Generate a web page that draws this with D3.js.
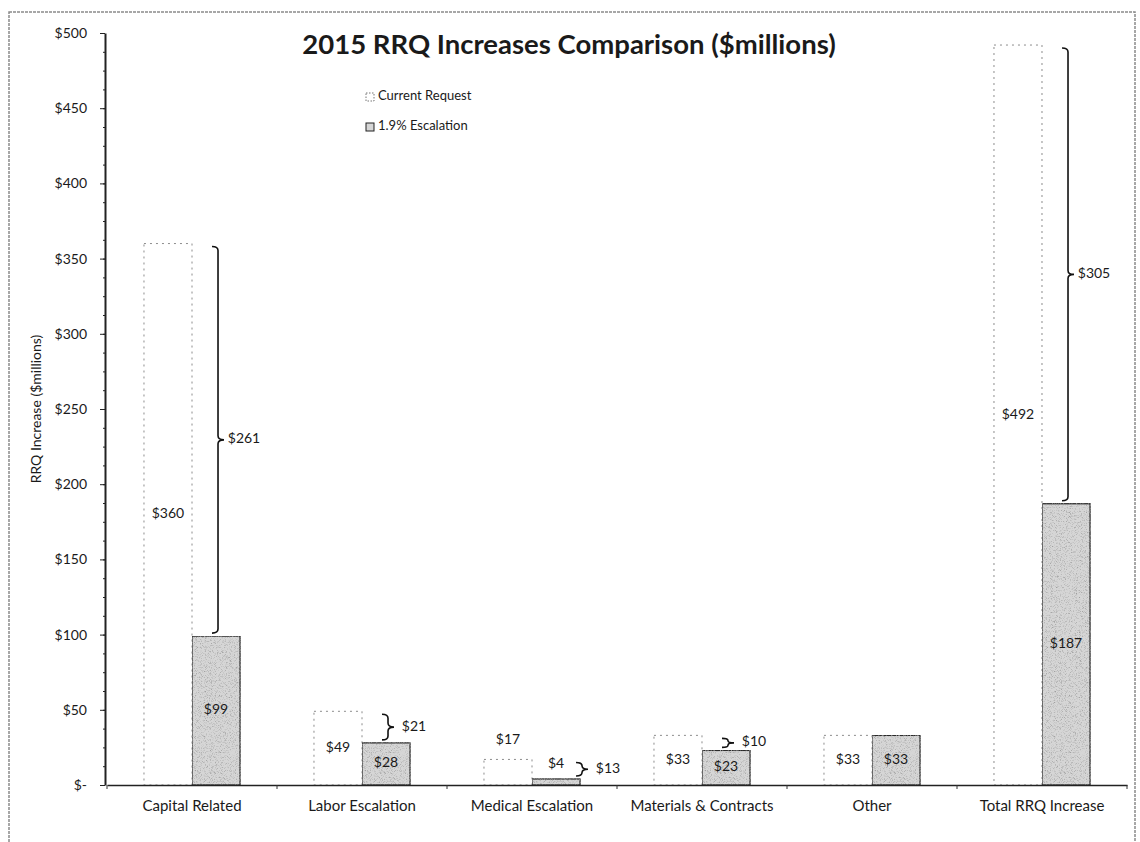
<!DOCTYPE html>
<html>
<head>
<meta charset="utf-8">
<title>2015 RRQ Increases Comparison</title>
<script src="https://cdn.jsdelivr.net/npm/d3@7/dist/d3.min.js"></script>
<style>
  body { margin: 0; background: #fff; }
  svg { display: block; }
  text { font-family: Lato, "Open Sans", sans-serif; fill: #1a1a1a; }
  .axis path, .axis line { stroke: #222; }
  .axis text { font-size: 14px; }
</style>
</head>
<body>
<script>
// chart values
const categories = ["Capital Related", "Labor Escalation", "Medical Escalation",
                    "Materials & Contracts", "Other", "Total RRQ Increase"];
const currentRequest = [360, 49, 17, 33, 33, 492];
const escalation = [99, 28, 4, 23, 33, 187];
const seriesNames = ["Current Request", "1.9% Escalation"];
const yTickValues = [0, 50, 100, 150, 200, 250, 300, 350, 400, 450, 500];

const W = 1140, H = 842;
const plot = { left: 107, right: 1127, top: 33, bottom: 785 };

const svg = d3.select("body").append("svg")
    .attr("width", W)
    .attr("height", H);

// stipple texture for the escalation bars
const defs = svg.append("defs");
const f = defs.append("filter").attr("id", "stipple")
    .attr("x", 0).attr("y", 0).attr("width", 1).attr("height", 1);
f.append("feTurbulence").attr("type", "fractalNoise")
    .attr("baseFrequency", 1.2).attr("numOctaves", 2).attr("seed", 7).attr("result", "n");
f.append("feColorMatrix").attr("in", "n").attr("type", "matrix")
    .attr("values", "0 0 0 0 0.35  0 0 0 0 0.35  0 0 0 0 0.35  3 0 0 0 -1.5")
    .attr("result", "dots");
f.append("feComposite").attr("in", "dots").attr("in2", "SourceGraphic")
    .attr("operator", "in").attr("result", "dotsIn");
const fm = f.append("feMerge");
fm.append("feMergeNode").attr("in", "SourceGraphic");
fm.append("feMergeNode").attr("in", "dotsIn");

// outer frame
svg.append("rect")
    .attr("x", 9).attr("y", 12)
    .attr("width", 1126).attr("height", 845)
    .attr("fill", "none")
    .attr("stroke", "#8a8a8a")
    .attr("stroke-width", 1.5)
    .attr("stroke-dasharray", "3 1");

// scales
const x0 = d3.scaleBand()
    .domain(categories)
    .range([plot.left, plot.right])
    .paddingInner(0.435)
    .paddingOuter(0.2175);

const x1 = d3.scaleBand()
    .domain(["current", "escalation"])
    .range([0, x0.bandwidth()]);

const y = d3.scaleLinear()
    .domain([0, 500])
    .range([plot.bottom, plot.top]);

const money = v => v === 0 ? "$-" : "$" + d3.format(",")(v);

// y axis with minor ticks
svg.append("g")
    .attr("class", "axis")
    .attr("transform", `translate(${plot.left - 2},0)`)
    .call(d3.axisLeft(y).tickValues(d3.range(0, 501, 12.5)).tickSize(2).tickFormat(""))
    .call(g => g.select(".domain").remove());

svg.append("g")
    .attr("class", "axis")
    .attr("transform", `translate(${plot.left - 2},0)`)
    .call(d3.axisLeft(y).tickValues(yTickValues).tickSize(5).tickSizeOuter(0).tickPadding(13).tickFormat(money))
    .call(g => g.select(".domain").attr("stroke-width", 2));

svg.append("text")
    .attr("transform", `translate(37,${(plot.top + plot.bottom) / 2}) rotate(-90)`)
    .attr("text-anchor", "middle")
    .attr("dominant-baseline", "middle")
    .style("font-size", "14px")
    .text("RRQ Increase ($millions)");

// bars
const groups = svg.append("g").selectAll("g")
    .data(categories.map((c, i) => ({ c, cur: currentRequest[i], esc: escalation[i] })))
    .join("g")
    .attr("transform", d => `translate(${x0(d.c)},0)`);

groups.append("rect")
    .attr("x", x1("current"))
    .attr("y", d => y(d.cur))
    .attr("width", x1.bandwidth())
    .attr("height", d => y(0) - y(d.cur))
    .attr("fill", "#fff")
    .attr("stroke", "#8c8c8c")
    .attr("stroke-width", 1)
    .attr("stroke-dasharray", "2 4");

groups.append("rect")
    .attr("x", x1("escalation"))
    .attr("y", d => y(d.esc))
    .attr("width", x1.bandwidth())
    .attr("height", d => y(0) - y(d.esc))
    .attr("fill", "#d6d6d6")
    .attr("stroke", "#2a2a2a")
    .attr("stroke-width", 1.3)
    .attr("filter", "url(#stipple)");

// x axis
svg.append("g")
    .attr("class", "axis")
    .attr("transform", `translate(0,${plot.bottom})`)
    .call(d3.axisBottom(x0).tickValues([]).tickSizeOuter(0))
    .call(g => g.select(".domain").attr("stroke", "#333").attr("stroke-width", 1.5));

svg.append("g").selectAll("line")
    .data(d3.range(categories.length + 1))
    .join("line")
    .attr("x1", i => plot.left + i * x0.step())
    .attr("x2", i => plot.left + i * x0.step())
    .attr("y1", plot.bottom)
    .attr("y2", plot.bottom + 4)
    .attr("stroke", "#333");

svg.append("g").selectAll("text")
    .data(categories)
    .join("text")
    .attr("x", d => x0(d) + x0.bandwidth() / 2)
    .attr("y", plot.bottom + 22)
    .attr("text-anchor", "middle")
    .attr("dominant-baseline", "middle")
    .style("font-size", "15px")
    .text(d => d);

// value labels
groups.append("text")
    .attr("x", x1("current") + x1.bandwidth() / 2)
    .attr("y", d => d.cur < 20 ? y(d.cur) - 19 : y(d.cur / 2))
    .attr("text-anchor", "middle")
    .attr("dominant-baseline", "middle")
    .style("font-size", "14px")
    .text(d => money(d.cur));

groups.append("text")
    .attr("x", x1("escalation") + x1.bandwidth() / 2)
    .attr("y", d => d.esc < 10 ? y(d.esc) - 15 : y(d.esc / 2))
    .attr("text-anchor", "middle")
    .attr("dominant-baseline", "middle")
    .style("font-size", "14px")
    .text(d => money(d.esc));

// difference braces
const braces = groups.filter(d => d.cur - d.esc > 0);

const braceX = d => d.esc < 10 ? x1("escalation") + x1.bandwidth() + 2
                               : x1("escalation") + x1.bandwidth() / 2 + 2;

function bracePath(d) {
    const bx = braceX(d);
    const top = y(d.cur) + 3, bot = y(d.esc) - 3, mid = (top + bot) / 2;
    const r = Math.min(4, (bot - top) / 4);
    return `M${bx - 6},${top} Q${bx},${top} ${bx},${top + r} L${bx},${mid - r}` +
           ` Q${bx},${mid} ${bx + 6},${mid} Q${bx},${mid} ${bx},${mid + r}` +
           ` L${bx},${bot - r} Q${bx},${bot} ${bx - 6},${bot}`;
}

braces.append("path")
    .attr("d", bracePath)
    .attr("fill", "none")
    .attr("stroke", "#111")
    .attr("stroke-width", 1.6);

braces.append("text")
    .attr("x", d => braceX(d) + 26)
    .attr("y", d => (y(d.cur) + y(d.esc)) / 2)
    .attr("text-anchor", "middle")
    .attr("dominant-baseline", "middle")
    .style("font-size", "14px")
    .text(d => money(d.cur - d.esc));

// title
svg.append("text")
    .attr("x", 569)
    .attr("y", 47)
    .attr("text-anchor", "middle")
    .attr("dominant-baseline", "middle")
    .style("font-size", "27.5px")
    .style("font-weight", "bold")
    .text("2015 RRQ Increases Comparison ($millions)");

// legend
const legend = svg.append("g").attr("transform", "translate(366,97)");
const items = legend.selectAll("g")
    .data(seriesNames)
    .join("g")
    .attr("transform", (d, i) => `translate(0,${i * 30})`);

items.append("rect")
    .attr("x", 0).attr("y", -4)
    .attr("width", 8).attr("height", 8)
    .attr("fill", (d, i) => i === 0 ? "#fff" : "#d6d6d6")
    .attr("stroke", (d, i) => i === 0 ? "#777" : "#222")
    .attr("stroke-dasharray", (d, i) => i === 0 ? "1.5 1.5" : null);

items.append("text")
    .attr("x", 12)
    .attr("y", 0)
    .attr("dominant-baseline", "middle")
    .style("font-size", "13px")
    .text(d => d);
</script>
</body>
</html>
